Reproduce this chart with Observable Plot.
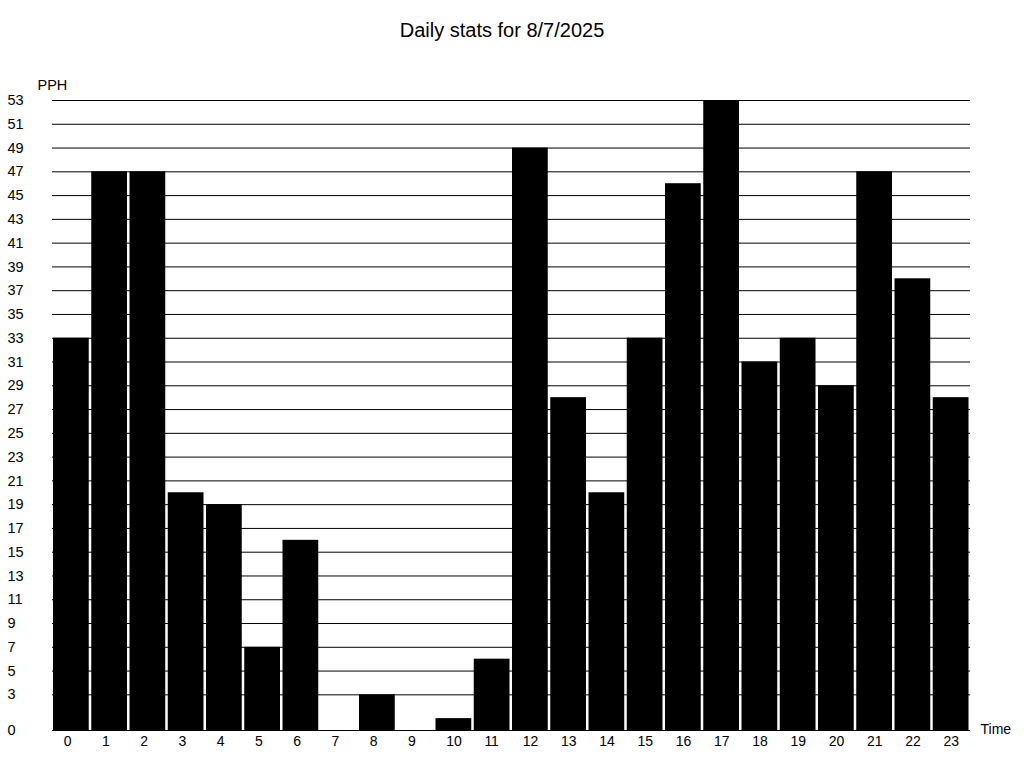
<!DOCTYPE html>
<html>
<head>
<meta charset="utf-8">
<script src="https://cdn.jsdelivr.net/npm/d3@7"></script>
<script src="https://cdn.jsdelivr.net/npm/@observablehq/plot@0.6"></script>
<style>
  body { margin: 0; background: #fff; font-family: "Liberation Sans", Arial, sans-serif; }
  #title { height: 60px; line-height: 60px; text-align: center; font-size: 20px; color: #000; width: 1004px; }
</style>
</head>
<body>
<div id="title">Daily stats for 8/7/2025</div>
<div id="chart"></div>
<script>
const hours = d3.range(0, 24);
const pph = [33, 47, 47, 20, 19, 7, 16, 0, 3, 0, 1, 6, 49, 28, 20, 33, 46, 53, 31, 33, 29, 47, 38, 28];
const yTicks = [0, 3, 5, 7, 9, 11, 13, 15, 17, 19, 21, 23, 25, 27, 29, 31, 33, 35, 37, 39, 41, 43, 45, 47, 49, 51, 53];
const yLabel = "PPH";
const xLabel = "Time";

const data = hours.map((h, i) => ({hour: h, value: pph[i]}));

const chart = Plot.plot({
  width: 1024,
  height: 708,
  marginTop: 40,
  marginBottom: 38,
  marginLeft: 52,
  marginRight: 54,
  style: {fontFamily: "Liberation Sans, Arial, sans-serif", fontSize: "14px", color: "#000", background: "#fff"},
  x: {type: "band", domain: hours, padding: 0, round: false, label: null, axis: null},
  y: {domain: [0, 53], label: null, axis: null},
  marks: [
    Plot.ruleY(yTicks, {stroke: "#000", strokeWidth: 1}),
    Plot.barY(data, {x: "hour", y: "value", fill: "#000", insetLeft: 1, insetRight: 1.5}),
    Plot.ruleY([0], {stroke: "#000", strokeWidth: 1}),
    Plot.text(hours, {x: d => d, text: d => String(d), frameAnchor: "bottom", dy: 15, dx: -8, textAnchor: "start", fontSize: 14}),
    Plot.text(yTicks, {y: d => d, text: d => String(d), frameAnchor: "left", dx: -45, textAnchor: "start", fontSize: 14.5}),
    Plot.text([yLabel], {frameAnchor: "top-left", dx: -15, dy: -21, textAnchor: "start", fontSize: 14.5}),
    Plot.text([xLabel], {frameAnchor: "bottom-right", dx: 10, dy: 3, textAnchor: "start", fontSize: 14})
  ]
});
document.getElementById("chart").appendChild(chart);
</script>
</body>
</html>
